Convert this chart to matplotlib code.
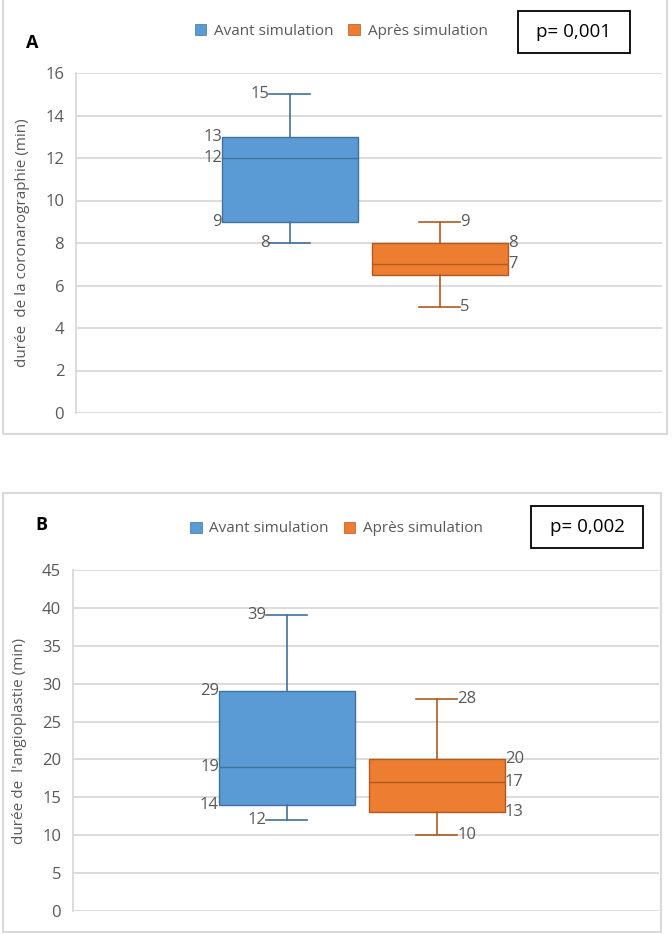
import matplotlib
matplotlib.use('Agg')
import matplotlib.pyplot as plt
from matplotlib.patches import Patch, Rectangle

plt.rcParams['font.family'] = ['Open Sans', 'DejaVu Sans']

# ----------------------------------------------------------------
# données

groupes = ['Avant simulation', 'Après simulation']

# A : durée de la coronarographie (min)
coro_min = [8, 5]
coro_q1 = [9, 6.5]
coro_med = [12, 7]
coro_q3 = [13, 8]
coro_max = [15, 9]
coro_ticks = list(range(0, 17, 2))
coro_p = 'p= 0,001'

# B : durée de l'angioplastie (min)
angio_min = [12, 10]
angio_q1 = [14, 13]
angio_med = [19, 17]
angio_q3 = [29, 20]
angio_max = [39, 28]
angio_ticks = list(range(0, 46, 5))
angio_p = 'p= 0,002'

# ----------------------------------------------------------------
# styles

fill = ['#5B9BD5', '#ED7D31']
edge = ['#41719C', '#AE5A21']
gris = '#595959'
grille = '#D9D9D9'
pos = [0.365, 0.621]
larg = 0.232
cap = 0.07

W, H = 672, 934
fig = plt.figure(figsize=(W / 100, H / 100), dpi=100)


def fx(px):
    return px / W


def fy(py):
    return 1 - py / H


def panneau(rect, vmin, q1, med, q3, vmax, ticks, ylabel, lettre,
            pbox, lettre_xy, leg_xy, cadre):
    ax = fig.add_axes(rect)
    stats = []
    for i in range(2):
        stats.append(dict(whislo=vmin[i], q1=q1[i], med=med[i], q3=q3[i],
                          whishi=vmax[i], fliers=[]))
    bp = ax.bxp(stats, positions=pos, widths=larg, patch_artist=True,
                showfliers=False, capwidths=cap, manage_ticks=False)
    for i in range(2):
        bp['boxes'][i].set(facecolor=fill[i], edgecolor=edge[i], linewidth=1.0)
        bp['medians'][i].set(color=edge[i], linewidth=1.0)
        for k in (2 * i, 2 * i + 1):
            bp['whiskers'][k].set(color=edge[i], linewidth=1.2)
            bp['caps'][k].set(color=edge[i], linewidth=1.2)

    # étiquettes de valeurs
    for i in range(2):
        if i == 0:
            xb, xc, ha = pos[i] - larg / 2, pos[i] - cap / 2, 'right'
        else:
            xb, xc, ha = pos[i] + larg / 2, pos[i] + cap / 2, 'left'
        for v, x in [(vmin[i], xc), (q1[i], xb), (med[i], xb),
                     (q3[i], xb), (vmax[i], xc)]:
            if v != int(v):   # Excel n'affiche pas le 6,5
                continue
            ax.text(x, v, '%d' % v, ha=ha, va='center', fontsize=12,
                    color=gris, zorder=5)

    ax.set_xlim(0, 1)
    ax.set_ylim(ticks[0], ticks[-1])
    ax.set_yticks(ticks)
    ax.set_xticks([])
    ax.yaxis.grid(True, color=grille, linewidth=1.3)
    ax.set_axisbelow(True)
    for s in ['top', 'right', 'bottom']:
        ax.spines[s].set_visible(False)
    ax.spines['left'].set_color(grille)
    ax.spines['left'].set_linewidth(1.3)
    ax.tick_params(axis='y', length=0, pad=8.5, labelsize=12, labelcolor=gris)
    ax.set_ylabel(ylabel, fontsize=11, color=gris)
    ax.yaxis.set_label_coords(-0.092, 0.5)
    ax.yaxis.label.set_va('center')

    # cadre du panneau
    x0, y0, x1, y1 = cadre
    fig.add_artist(Rectangle((fx(x0), fy(y1)), fx(x1) - fx(x0), fy(y0) - fy(y1),
                             transform=fig.transFigure, fill=False,
                             edgecolor=grille, linewidth=1.5))

    # légende
    handles = [Patch(facecolor=fill[i], edgecolor=edge[i], linewidth=0.5,
                     label=groupes[i]) for i in range(2)]
    fig.legend(handles=handles, loc='center', ncol=2, frameon=False,
               bbox_to_anchor=(fx(leg_xy[0]), fy(leg_xy[1])), fontsize=11,
               handlelength=0.75, handleheight=0.75, handletextpad=0.5,
               columnspacing=1.0, labelcolor=gris)

    # boîte p
    texte, bx0, by0, bx1, by1 = pbox
    fig.add_artist(Rectangle((fx(bx0), fy(by1)), fx(bx1) - fx(bx0),
                             fy(by0) - fy(by1), transform=fig.transFigure,
                             fill=False, edgecolor='black', linewidth=1.3))
    fig.text(fx((bx0 + bx1) / 2), fy((by0 + by1) / 2), texte, ha='center',
             va='center', fontsize=13.5, color='black')

    fig.text(fx(lettre_xy[0]), fy(lettre_xy[1]), lettre, ha='center',
             va='center', fontsize=13, fontweight='bold', color='black')
    return ax


axA = panneau([fx(76), fy(413), fx(662) - fx(76), fy(73) - fy(413)],
              coro_min, coro_q1, coro_med, coro_q3, coro_max, coro_ticks,
              'durée  de la coronarographie (min)', 'A',
              (coro_p, 518, 11, 630, 53), (32.5, 43.5), (341, 31.5),
              (3, -2, 667, 434))

axB = panneau([fx(73), fy(911), fx(659) - fx(73), fy(570) - fy(911)],
              angio_min, angio_q1, angio_med, angio_q3, angio_max, angio_ticks,
              "durée de  l'angioplastie (min)", 'B',
              (angio_p, 531, 506, 643, 548), (41, 525), (336.5, 529),
              (3, 493, 661, 932))

plt.savefig('out.png', dpi=100)
